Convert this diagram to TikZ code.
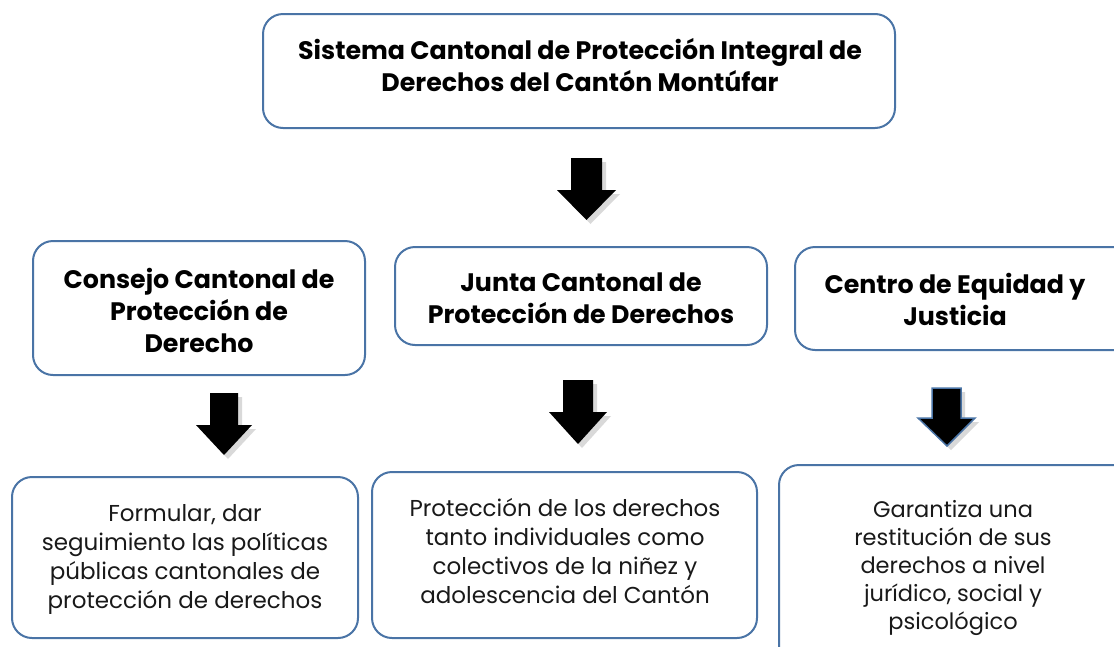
\documentclass[tikz,border=0pt]{standalone}
\usepackage{fontspec}
\setmainfont{Poppins}
\definecolor{bbord}{HTML}{4A74A6}
\tikzset{
  box/.style={draw=bbord, line width=2pt, rounded corners=20pt, fill=white},
  ttl/.style={font=\bfseries\fontsize{25.3}{32}\selectfont, align=center},
  body/.style={font=\fontsize{23}{29}\selectfont, align=center, text=black!90}
}
\begin{document}
\begin{tikzpicture}[x=1pt,y=-1pt]
\useasboundingbox (0,0) rectangle (1114,646);
% boxes
\draw[box] (263,14) rectangle (895,128);
\node[ttl] (top) at (580,65) {Sistema Cantonal de Protección Integral de\\Derechos del Cantón Montúfar};

\draw[box] (33,241) rectangle (365,375);
\node[ttl] (c1) at (199,310) {Consejo Cantonal de\\Protección de\\Derecho};
\draw[box] (395,247) rectangle (767,345);
\node[ttl] (c2) at (581,298) {Junta Cantonal de\\Protección de Derechos};
\draw[box] (795,247) rectangle (1135,350);
\node[ttl] (c3) at (955,299) {Centro de Equidad y\\Justicia};

\draw[box] (12,477) rectangle (358,638);
\node[body] (d1) at (185,559) {Formular, dar\\seguimiento las políticas\\públicas cantonales de\\protección de derechos};
\draw[box] (372,472) rectangle (757,638);
\node[body] (d2) at (565,551) {Protección de los derechos\\tanto individuales como\\colectivos de la niñez y\\adolescencia del Cantón};
\draw[box] (779,465) rectangle (1135,680);
\node[body, font=\fontsize{22.5}{28}\selectfont] (d3) at (953,568) {Garantiza una\\restitución de sus\\derechos a nivel\\jurídico, social y\\psicológico};

% arrows
\foreach \xa/\xb/\ya/\yb/\yc in {557/616/158/190/220, 196/252/393/425/455, 549/607/380/412/444}{
  \fill[black!15] (\xa+4+14,\ya+4) -- (\xb+4-14,\ya+4) -- (\xb+4-14,\yb+4) -- (\xb+4,\yb+4) -- ({(\xa+\xb)/2+4},\yc+4) -- (\xa+4,\yb+4) -- (\xa+4+14,\yb+4) -- cycle;
  \fill[black] (\xa+14,\ya) -- (\xb-14,\ya) -- (\xb-14,\yb) -- (\xb,\yb) -- ({(\xa+\xb)/2},\yc) -- (\xa,\yb) -- (\xa+14,\yb) -- cycle;
}
\fill[black!15] (936,392) -- (965,392) -- (965,422) -- (979,422) -- (951,450) -- (922,422) -- (936,422) -- cycle;
\filldraw[fill=black, draw=bbord, line width=1.5pt] (932,388) -- (961,388) -- (961,418) -- (975,418) -- (947,446) -- (918,418) -- (932,418) -- cycle;
\end{tikzpicture}
\end{document}
